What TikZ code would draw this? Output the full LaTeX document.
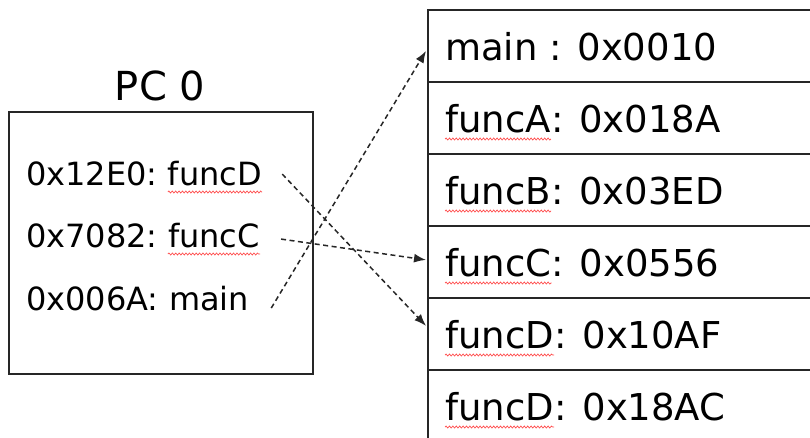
\documentclass[tikz,border=0pt]{standalone}
\usepackage{fontspec}
\setmainfont{DejaVu Sans}
\usetikzlibrary{arrows.meta,decorations.pathmorphing,calc}

\begin{document}
\begin{tikzpicture}[x=1pt,y=-1pt,
  frame/.style={draw=black!85,line width=1.8pt},
  lbl/.style={inner sep=0pt,anchor=base west,font=\fontsize{32}{32}\selectfont},
  rlbl/.style={inner sep=0pt,anchor=base west,font=\fontsize{37}{37}\selectfont},
  cell/.style={frame,minimum width=420pt,minimum height=72pt,anchor=north west,inner sep=0pt},
  spell/.style={draw=red!70!white,line width=0.7pt,decorate,
    decoration={snake,amplitude=1pt,segment length=3.4pt}},
  link/.style={draw=black!85,line width=1.5pt,dash pattern=on 5pt off 3.5pt,
    -{Latex[length=12pt,width=9pt]}}]

\clip (0,0) rectangle (810,437);

% program counter box
\node[frame,minimum width=304pt,minimum height=262pt,anchor=north west,inner sep=0pt] (pc) at (8,111) {};
\node[font=\fontsize{40}{40}\selectfont,anchor=base,inner sep=0pt] (title) at (160,100) {PC 0};

\node[lbl] (a1) at (26,185) {0x12E0:};
\node[lbl] (w1) at ([xshift=10pt]a1.base east) {funcD};
\node[lbl] (a2) at (26,247) {0x7082:};
\node[lbl] (w2) at ([xshift=10pt]a2.base east) {funcC};
\node[lbl] (a3) at (26,310) {0x006A:};
\node[lbl] (w3) at ([xshift=10pt]a3.base east) {main};

% symbol table
\node[cell] (r1) at (427,9) {};
\node[cell] (r2) at (427,81) {};
\node[cell] (r3) at (427,153) {};
\node[cell] (r4) at (427,225) {};
\node[cell] (r5) at (427,297) {};
\node[cell] (r6) at (427,369) {};

\node[rlbl] (t1) at (445,60) {main : 0x0010};
\node[rlbl] (f2) at (445,132) {funcA};
\node[rlbl] (t2) at (f2.base east) {: 0x018A};
\node[rlbl] (f3) at (445,204) {funcB};
\node[rlbl] (t3) at (f3.base east) {: 0x03ED};
\node[rlbl] (f4) at (445,276) {funcC};
\node[rlbl] (t4) at (f4.base east) {: 0x0556};
\node[rlbl] (f5) at (445,348) {funcD};
\node[rlbl] (t5) at (f5.base east) {: 0x10AF};
\node[rlbl] (f6) at (445,420) {funcD};
\node[rlbl] (t6) at (f6.base east) {: 0x18AC};

% spell-check underlines
\foreach \w in {w1,w2}
  \draw[spell] ($(\w.base west)+(0,7)$) -- ($(\w.base east)+(0,7)$);
\foreach \w in {f2,f3,f4,f5,f6}
  \draw[spell] ($(\w.base west)+(0,7)$) -- ($(\w.base east)+(0,7)$);

% lookups
\draw[link] ($(w1.east)+(20,1)$) -- ($(r5.west)+(-1,-8)$);
\draw[link] ($(w2.east)+(21,4)$) -- ($(r4.west)+(-1,-2)$);
\draw[link] ($(w3.east)+(22,10)$) -- ($(r1.west)+(-1,5)$);
\end{tikzpicture}
\end{document}
